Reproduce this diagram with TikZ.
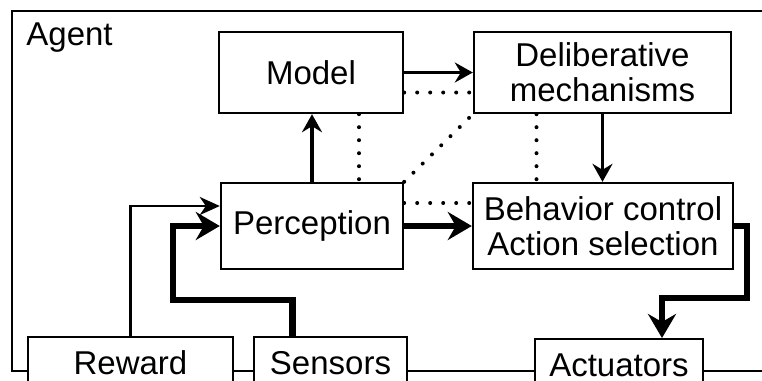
\documentclass[tikz,border=0pt]{standalone}
\usepackage{fontspec}
\setmainfont{Liberation Sans}
\usepackage{tikz}
\usetikzlibrary{arrows.meta}
\tikzset{
  BaseNode/.style = {align=center, inner sep=2pt, text centered, font=\fontsize{16.5}{17.5}\selectfont},
  BoxNode/.style = {BaseNode, rectangle, draw=black, line width=1.2pt, fill=white},
  PortNode/.style = {BoxNode, anchor=north, minimum height=26pt},
  ThinFlow/.style = {-{Stealth[length=10pt, width=9pt, inset=3pt]}, line width=1.1pt},
  MidFlow/.style = {-{Stealth[length=9pt, width=10pt, inset=3pt]}, line width=1.6pt},
  HeavyFlow/.style = {-{Stealth[length=12pt, width=14pt, inset=4pt]}, line width=3.2pt},
  DotLink/.style = {line width=2pt, dash pattern=on 0pt off 6.5pt, line cap=round},
}

\begin{document}
\begin{tikzpicture}[x=0.5pt, y=-0.5pt]
    \useasboundingbox (0,0) rectangle (762,381);
    \clip (0,0) rectangle (762,381);
    % agent frame
    \draw [line width=1.2pt] (12,11) rectangle (800,371);
    \node [BaseNode, anchor=base west, inner sep=0pt] (agent) at (26,45) {Agent};
    % inner boxes
    \node [BoxNode, minimum width=92pt, minimum height=40.5pt] (model) at (311,72.5) {Model};
    \node [BoxNode, minimum width=128.5pt, minimum height=40.5pt] (delib) at (602.5,72.5) {Deliberative\\mechanisms};
    \node [BoxNode, minimum width=91pt, minimum height=43pt] (percep) at (312,226) {Perception};
    \node [BoxNode, minimum width=130pt, minimum height=43pt] (behav) at (603,226) {Behavior control\\Action selection};
    % boxes on the frame
    \node [PortNode, minimum width=102.5pt] (reward) at (130.5,336) {Reward};
    \node [PortNode, minimum width=76.5pt] (sensors) at (330.5,336) {Sensors};
    \node [PortNode, minimum width=84pt] (act) at (619,338) {Actuators};
    \coordinate (sjog) at (173,300);
    \coordinate (bend) at (747,298);
    % flows
    \draw [MidFlow] (percep.north) -- (percep.north |- model.south);
    \draw [MidFlow] (model.east) -- (delib.west);
    \draw [MidFlow] (delib.south) -- (delib.south |- behav.north);
    \draw [HeavyFlow] (percep.east) -- (behav.west);
    \draw [HeavyFlow] (behav.east) -| (bend) -| ([xshift=21.5pt]act.north);
    \draw [ThinFlow] (reward.north) |- ([yshift=10pt]percep.west);
    \draw [HeavyFlow] ([xshift=-19pt]sensors.north) |- (sjog) |- (percep.west);
    % dotted links
    \draw [DotLink] ([yshift=-10pt]model.east) -- ([yshift=-10pt]model.east -| delib.west);
    \draw [DotLink] ([xshift=24pt]model.south) -- ([xshift=24pt]model.south |- percep.north);
    \draw [DotLink] (percep.north east) -- (delib.south west);
    \draw [DotLink] ([xshift=-33pt]delib.south) -- ([xshift=-33pt]delib.south |- behav.north);
    \draw [DotLink] ([yshift=11.5pt]percep.east) -- ([yshift=11.5pt]percep.east -| behav.west);
\end{tikzpicture}
\end{document}
